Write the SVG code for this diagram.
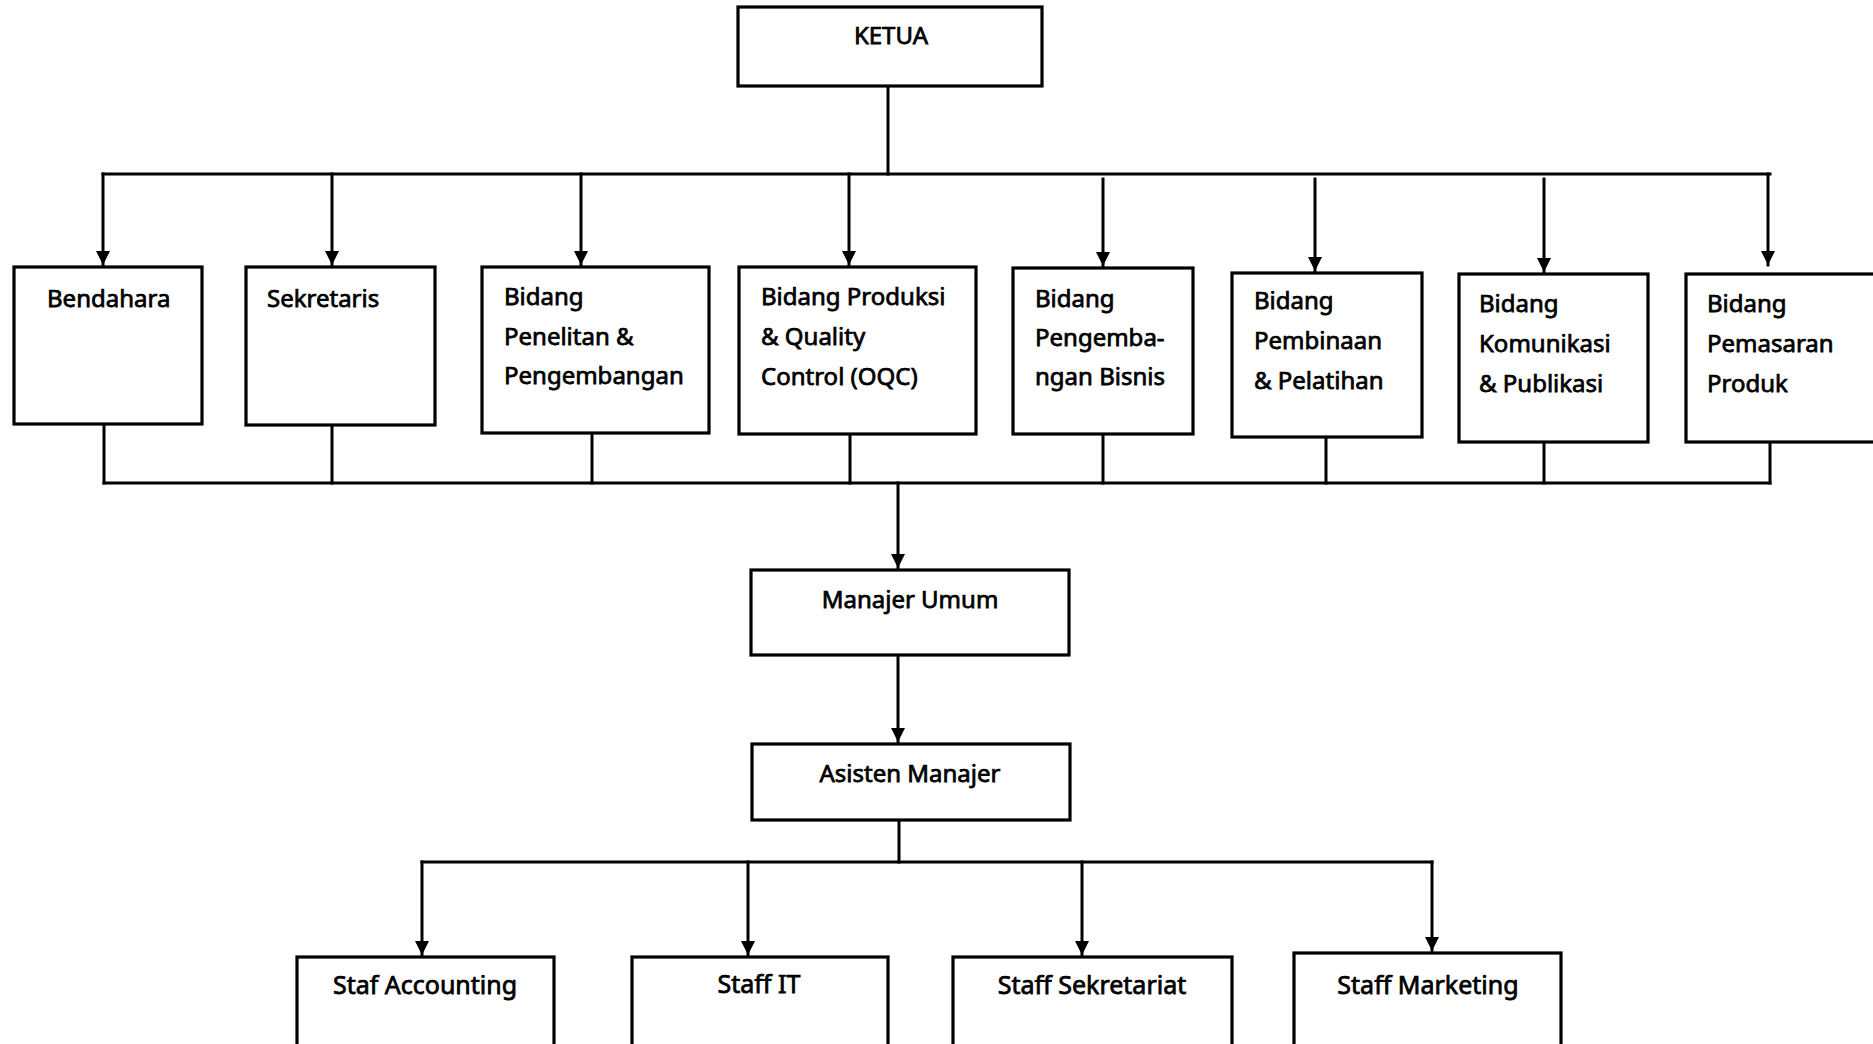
<svg xmlns="http://www.w3.org/2000/svg" width="1873" height="1044" viewBox="0 0 1873 1044">
  <style>
    .box { fill: #ffffff; stroke: #000000; stroke-width: 3.2; }
    .wire { fill: none; stroke: #000000; stroke-width: 3; stroke-linecap: square; }
    .lbl { font-family: "Noto Sans", "Open Sans", "Liberation Sans", sans-serif; font-size: 24px; fill: #000000; stroke: #000000; stroke-width: 0.75; }
    .mid { text-anchor: middle; }
    .staff { font-size: 25px; }
  </style>
  <defs>
    <marker id="arrow" markerUnits="userSpaceOnUse" markerWidth="16" markerHeight="16" refX="14" refY="7" orient="auto">
      <path d="M0,0 L14,7 L0,14 z" fill="#000000"/>
    </marker>
  </defs>
  <rect width="1873" height="1044" fill="#ffffff"/>

  <!-- connectors -->
  <g id="connectors" class="wire">
    <!-- chair to the divisions bus -->
    <path d="M888,86 V174"/>
    <path d="M103,174 H1770"/>
    <path d="M103,174 V265" marker-end="url(#arrow)"/>
    <path d="M332,174 V265" marker-end="url(#arrow)"/>
    <path d="M581,174 V265" marker-end="url(#arrow)"/>
    <path d="M849,174 V265" marker-end="url(#arrow)"/>
    <path d="M1103,179 V266" marker-end="url(#arrow)"/>
    <path d="M1315,179 V271" marker-end="url(#arrow)"/>
    <path d="M1544,179 V272" marker-end="url(#arrow)"/>
    <path d="M1768,174 V265" marker-end="url(#arrow)"/>
    <!-- divisions to the collector bus -->
    <path d="M104,424 V483"/>
    <path d="M332,425 V483"/>
    <path d="M592,433 V483"/>
    <path d="M850,434 V483"/>
    <path d="M1103,434 V483"/>
    <path d="M1326,437 V483"/>
    <path d="M1544,442 V483"/>
    <path d="M1770,442 V483"/>
    <path d="M104,483 H1770"/>
    <!-- management chain -->
    <path d="M898,483 V568" marker-end="url(#arrow)"/>
    <path d="M898,655 V742" marker-end="url(#arrow)"/>
    <path d="M899,820 V862"/>
    <path d="M422,862 H1432"/>
    <path d="M422,862 V955" marker-end="url(#arrow)"/>
    <path d="M748,862 V955" marker-end="url(#arrow)"/>
    <path d="M1082,862 V955" marker-end="url(#arrow)"/>
    <path d="M1432,862 V951" marker-end="url(#arrow)"/>
  </g>

  <g id="ketua">
    <rect class="box" x="738" y="7" width="304" height="79"/>
    <text class="lbl mid" x="891" y="44">KETUA</text>
  </g>

  <g id="bendahara">
    <rect class="box" x="14" y="267" width="188" height="157"/>
    <text class="lbl" x="47" y="307">Bendahara</text>
  </g>

  <g id="sekretaris">
    <rect class="box" x="246" y="267" width="189" height="158"/>
    <text class="lbl" x="267" y="307">Sekretaris</text>
  </g>

  <g id="bidang-penelitian">
    <rect class="box" x="482" y="267" width="227" height="166"/>
    <text class="lbl" x="504" y="305">Bidang</text>
    <text class="lbl" x="504" y="345">Penelitan &amp;</text>
    <text class="lbl" x="504" y="384">Pengembangan</text>
  </g>

  <g id="bidang-produksi">
    <rect class="box" x="739" y="267" width="237" height="167"/>
    <text class="lbl" x="761" y="305">Bidang Produksi</text>
    <text class="lbl" x="761" y="345">&amp; Quality</text>
    <text class="lbl" x="761" y="385">Control (OQC)</text>
  </g>

  <g id="bidang-bisnis">
    <rect class="box" x="1013" y="268" width="180" height="166"/>
    <text class="lbl" x="1035" y="307">Bidang</text>
    <text class="lbl" x="1035" y="346">Pengemba-</text>
    <text class="lbl" x="1035" y="385">ngan Bisnis</text>
  </g>

  <g id="bidang-pembinaan">
    <rect class="box" x="1232" y="273" width="190" height="164"/>
    <text class="lbl" x="1254" y="309">Bidang</text>
    <text class="lbl" x="1254" y="349">Pembinaan</text>
    <text class="lbl" x="1254" y="389">&amp; Pelatihan</text>
  </g>

  <g id="bidang-komunikasi">
    <rect class="box" x="1459" y="274" width="189" height="168"/>
    <text class="lbl" x="1479" y="312">Bidang</text>
    <text class="lbl" x="1479" y="352">Komunikasi</text>
    <text class="lbl" x="1479" y="392">&amp; Publikasi</text>
  </g>

  <g id="bidang-pemasaran">
    <rect class="box" x="1686" y="274" width="200" height="168"/>
    <text class="lbl" x="1707" y="312">Bidang</text>
    <text class="lbl" x="1707" y="352">Pemasaran</text>
    <text class="lbl" x="1707" y="392">Produk</text>
  </g>

  <g id="manajer-umum">
    <rect class="box" x="751" y="570" width="318" height="85"/>
    <text class="lbl mid" x="910" y="608">Manajer Umum</text>
  </g>

  <g id="asisten-manajer">
    <rect class="box" x="752" y="744" width="318" height="76"/>
    <text class="lbl mid" x="910" y="782">Asisten Manajer</text>
  </g>

  <g id="staf-accounting">
    <rect class="box" x="297" y="957" width="257" height="90"/>
    <text class="lbl staff mid" x="425" y="994">Staf Accounting</text>
  </g>

  <g id="staff-it">
    <rect class="box" x="632" y="957" width="256" height="90"/>
    <text class="lbl staff mid" x="759" y="993">Staff IT</text>
  </g>

  <g id="staff-sekretariat">
    <rect class="box" x="953" y="957" width="279" height="90"/>
    <text class="lbl staff mid" x="1092" y="994">Staff Sekretariat</text>
  </g>

  <g id="staff-marketing">
    <rect class="box" x="1294" y="953" width="267" height="94"/>
    <text class="lbl staff mid" x="1428" y="994">Staff Marketing</text>
  </g>
</svg>
